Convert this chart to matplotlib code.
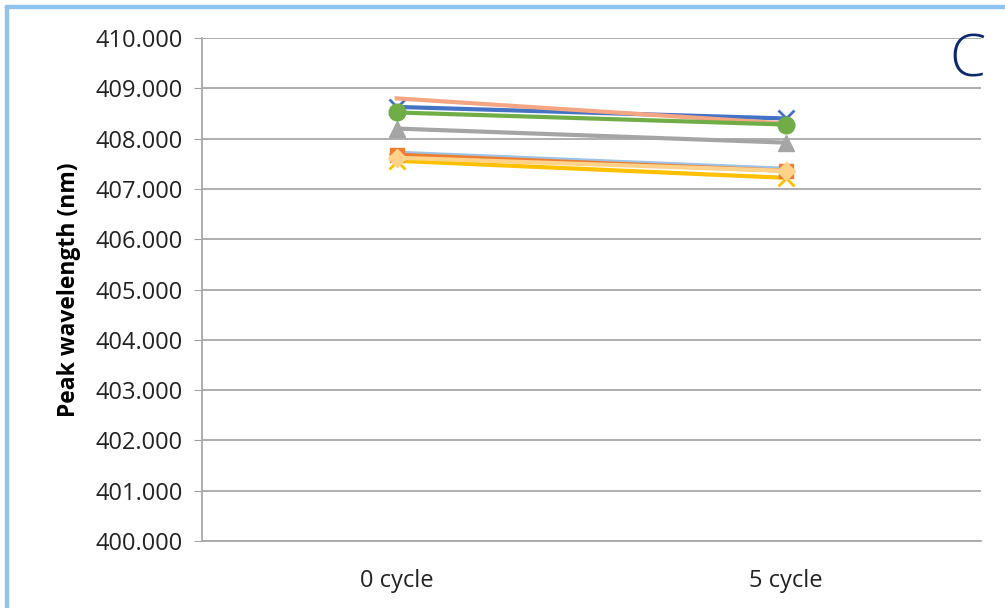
import matplotlib.pyplot as plt
from matplotlib.patches import Rectangle

categories = ['0 cycle', '5 cycle']
yticks = [400, 401, 402, 403, 404, 405, 406, 407, 408, 409, 410]

s_blue = [408.63, 408.40]
s_orange = [407.68, 407.36]
s_gray = [408.20, 407.92]
s_gold = [407.56, 407.22]
s_lightblue = [407.72, 407.40]
s_green = [408.52, 408.28]
s_salmon = [408.80, 408.30]
s_peach = [407.62, 407.36]

plt.rcParams['font.family'] = ['Open Sans', 'DejaVu Sans']

fig = plt.figure(figsize=(10.05, 6.08), dpi=100)
ax = fig.add_axes([0.201, 0.110, 0.775, 0.8275])

x = [0, 1]
ax.plot(x, s_lightblue, color='#9DC3E6', lw=3, zorder=3)
ax.plot(x, s_gold, color='#FFC000', lw=3, marker='x', ms=11, mew=2, zorder=3)
ax.plot(x, s_orange, color='#ED7D31', lw=3, marker='s', ms=10, zorder=3)
ax.plot(x, s_peach, color='#FFD28A', lw=3, marker='D', ms=9, zorder=3)
ax.plot(x, s_gray, color='#A5A5A5', lw=3, marker='^', ms=11, zorder=3)
ax.plot(x, s_salmon, color='#F4A582', lw=3, zorder=3)
ax.plot(x, s_green, color='#70AD47', lw=3, marker='o', ms=12, zorder=3)
ax.plot(x, s_blue, color='#4472C4', lw=3, marker='x', ms=11, mew=2, zorder=2)

ax.set_xlim(-0.5, 1.5)
ax.set_ylim(400, 410)
ax.set_yticks(yticks)
ax.set_yticklabels(['%.3f' % v for v in yticks], fontsize=17, color='#222222')
ax.set_xticks(x)
ax.set_xticklabels(categories, fontsize=17, color='#222222')
ax.tick_params(axis='x', length=0, pad=20)
ax.tick_params(axis='y', length=6, color='#A0A0A0', pad=8)
ax.grid(axis='y', color='#A8A8A8', lw=1.3)
for side in ['top', 'right']:
    ax.spines[side].set_visible(False)
ax.spines['left'].set_color('#A8A8A8')
ax.spines['bottom'].set_color('#A8A8A8')
ax.spines['left'].set_linewidth(1.3)
ax.spines['bottom'].set_linewidth(1.3)

ax.set_ylabel('Peak wavelength (nm)', fontsize=16.5, fontweight='bold', labelpad=10)

fig.text(0.963, 0.9, 'C', fontsize=42, fontweight='light', color='#0C2A6B',
         ha='center', va='center')

# light blue frame on left and top
fig.patches.append(Rectangle((0.005, 0), 0.0025, 0.99, transform=fig.transFigure,
                             color='#8DC3EC', zorder=10))
fig.patches.append(Rectangle((0.005, 0.987), 0.995, 0.004, transform=fig.transFigure,
                             color='#8DC3EC', zorder=10))

fig.savefig('out.png', dpi=100)
